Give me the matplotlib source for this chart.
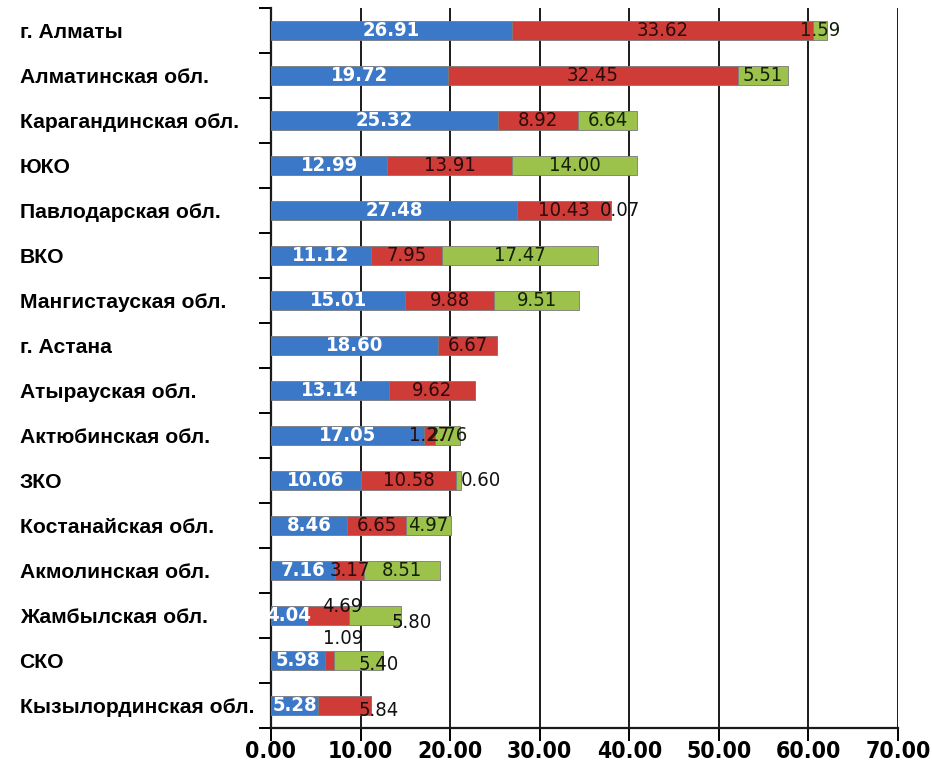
import matplotlib
matplotlib.use("Agg")
import matplotlib.pyplot as plt
import numpy as np

# --- данные (сверху вниз, как на графике) ---
regions = ["г. Алматы", "Алматинская обл.", "Карагандинская обл.", "ЮКО",
           "Павлодарская обл.", "ВКО", "Мангистауская обл.", "г. Астана",
           "Атырауская обл.", "Актюбинская обл.", "ЗКО", "Костанайская обл.",
           "Акмолинская обл.", "Жамбылская обл.", "СКО", "Кызылординская обл."]
blue_vals = [26.91, 19.72, 25.32, 12.99, 27.48, 11.12, 15.01, 18.60,
             13.14, 17.05, 10.06, 8.46, 7.16, 4.04, 5.98, 5.28]
red_vals = [33.62, 32.45, 8.92, 13.91, 10.43, 7.95, 9.88, 6.67,
            9.62, 1.27, 10.58, 6.65, 3.17, 4.69, 1.09, 5.84]
green_vals = [1.59, 5.51, 6.64, 14.00, 0.07, 17.47, 9.51, 0.0,
              0.0, 2.76, 0.60, 4.97, 8.51, 5.80, 5.40, 0.0]
x_ticks = [0, 10, 20, 30, 40, 50, 60, 70]

# --- стиль ---
colors = ["#3b78c8", "#cf3b37", "#9cc24c"]
text_colors = ["white", "#2a0a0a", "#142008"]
narrow = dict(family="DejaVu Sans", stretch="condensed")

# подписи, которые в оригинале сдвинуты вручную: (ряд, серия) -> (x, сдвиг по y)
label_nudge = {
    (4, 2): (38.9, 0.0),
    (10, 2): (23.4, 0.0),
    (13, 1): (7.9, -0.21),
    (13, 2): (15.7, 0.15),
    (14, 1): (8.1, -0.5),
    (14, 2): (12.0, 0.1),
    (15, 1): (12.0, 0.1),
}

fig = plt.figure(figsize=(9.32, 7.70), dpi=100)
ax = fig.add_axes([271 / 932, 1 - 728 / 770, (898 - 271) / 932, 720 / 770])

y = np.arange(len(regions))
series = [blue_vals, red_vals, green_vals]
left = np.zeros(len(regions))
for s, vals in enumerate(series):
    vals = np.array(vals)
    ax.barh(y, vals, left=left, height=0.42, color=colors[s],
            edgecolor="#7a7a7a", linewidth=0.6, zorder=3)
    for i, v in enumerate(vals):
        if v <= 0:
            continue
        cx = left[i] + v / 2
        dy = 0.0
        col = text_colors[s]
        if (i, s) in label_nudge:
            cx, dy = label_nudge[(i, s)]
            col = "#111111"
        ax.text(cx, y[i] + dy, f"{v:.2f}", ha="center", va="center",
                color=col, fontsize=14.5,
                fontweight="bold" if s == 0 else "normal",
                zorder=5, **narrow)
    left += vals

ax.set_xlim(0, 70)
ax.set_ylim(len(regions) - 0.5, -0.5)
ax.set_xticks(x_ticks)
ax.set_xticklabels([f"{t:.2f}" for t in x_ticks], fontsize=16.5,
                   fontweight="bold", **narrow)
ax.grid(True, axis="x", color="#1a1a1a", linewidth=1.4, zorder=0)

ax.set_yticks(y)
ax.set_yticklabels(regions, ha="left", fontsize=15.2, fontweight="bold",
                   family=["Liberation Sans", "DejaVu Sans"])
ax.set_yticks(np.arange(-0.5, len(regions), 1.0), minor=True)
ax.tick_params(axis="y", which="major", length=0, pad=181)
ax.tick_params(axis="y", which="minor", length=9, width=1.4, direction="out")
ax.tick_params(axis="x", length=9, width=1.4, pad=0)

for side in ["top", "right"]:
    ax.spines[side].set_visible(False)
for side in ["left", "bottom"]:
    ax.spines[side].set_linewidth(1.6)
    ax.spines[side].set_color("#1a1a1a")

plt.savefig("out.png", dpi=100)
